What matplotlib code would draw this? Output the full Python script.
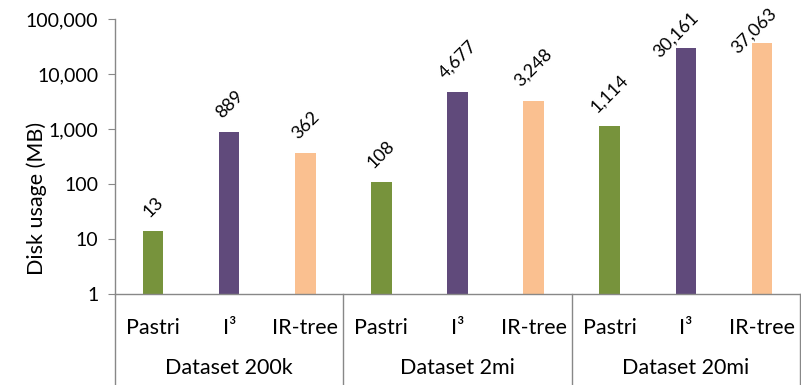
import matplotlib.pyplot as plt
from matplotlib.lines import Line2D
from matplotlib.ticker import FixedLocator, FuncFormatter

plt.rcParams['font.family'] = ['Lato', 'DejaVu Sans']

# disk usage per index, grouped by dataset
datasets = ["Dataset 200k", "Dataset 2mi", "Dataset 20mi"]
methods = ["Pastri", "I³", "IR-tree"]
disk_mb = [13, 889, 362, 108, 4677, 3248, 1114, 30161, 37063]
colors = ["#77933C", "#604A7B", "#FAC090"]
# the two tallest labels are pulled down/left so they stay inside the figure
label_shift = [(0, 8)] * 7 + [(-7, -9), (-6, -10)]

fig = plt.figure(figsize=(8.01, 3.85), dpi=100)
ax = fig.add_axes([115 / 801, 91 / 385, 685 / 801, 275 / 385])

xs = list(range(len(disk_mb)))
bar_colors = [colors[i % 3] for i in xs]
ax.bar(xs, disk_mb, width=0.27, color=bar_colors, bottom=1)

ax.set_yscale('log')
ax.set_ylim(1, 100000)
ax.set_xlim(-0.5, len(disk_mb) - 0.5)
ax.yaxis.set_major_locator(FixedLocator([1, 10, 100, 1000, 10000, 100000]))
ax.yaxis.set_minor_locator(FixedLocator([]))
ax.yaxis.set_major_formatter(FuncFormatter(lambda v, p: f"{int(v):,}"))
ax.tick_params(axis='y', labelsize=14, length=5, color="#888888", pad=7)
ax.set_ylabel("Disk usage (MB)", fontsize=15.5)
ax.yaxis.set_label_coords(-0.099, 0.349)

ax.set_xticks(xs)
ax.set_xticklabels([methods[i % 3] for i in xs], fontsize=15.5)
ax.tick_params(axis='x', length=0, pad=17)

for s in ['top', 'right']:
    ax.spines[s].set_visible(False)
for s in ['left', 'bottom']:
    ax.spines[s].set_color("#888888")
    ax.spines[s].set_linewidth(1)

# value labels, rotated like the spreadsheet
for x, v, (dx, dy) in zip(xs, disk_mb, label_shift):
    ax.annotate(f"{v:,}", (x, v + 1), xytext=(dx, dy), textcoords='offset points',
                rotation=45, ha='center', va='bottom', fontsize=13)

# second level of the category axis
y0 = 91 / 385
for k in range(len(datasets) + 1):
    xf = (115 + k * 3 * 685 / 9) / 801
    fig.add_artist(Line2D([xf, xf], [0, y0], transform=fig.transFigure,
                          color="#888888", lw=1))
for k, name in enumerate(datasets):
    xc = (115 + (k * 3 + 1.5) * 685 / 9) / 801
    fig.text(xc, 17 / 385, name, ha='center', va='center', fontsize=15.5)

fig.savefig("out.png", dpi=100)
